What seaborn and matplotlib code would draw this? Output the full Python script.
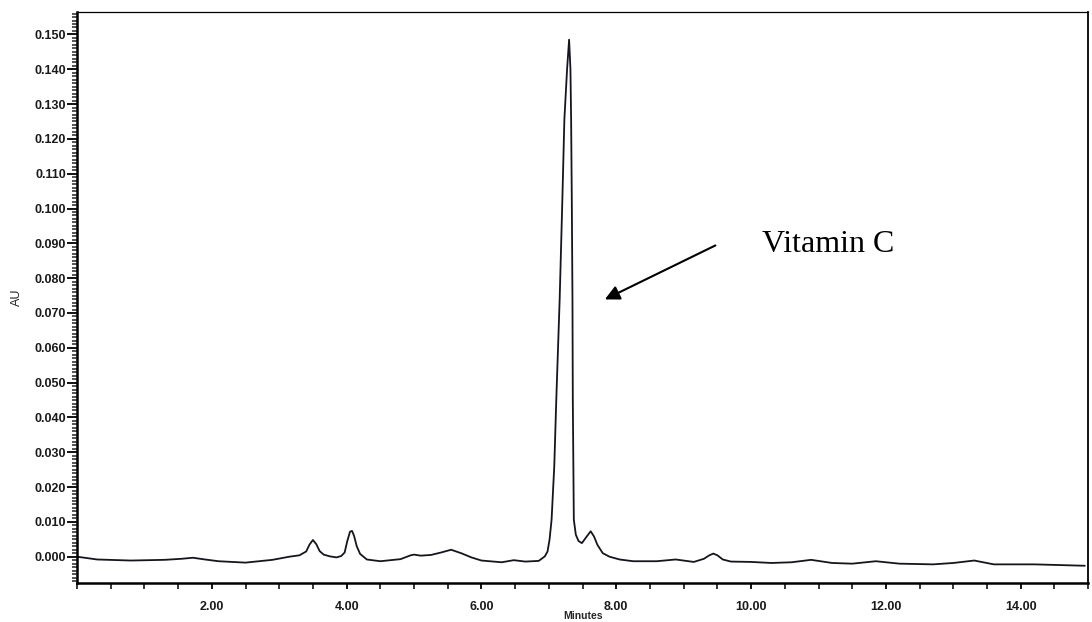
import numpy as np
import pandas as pd
import matplotlib
matplotlib.use("Agg")
import matplotlib.pyplot as plt
from matplotlib.ticker import MultipleLocator, FormatStrFormatter
import seaborn as sns

# Chromatogram trace (minutes, AU)
time_min = [0.00, 0.30, 0.80, 1.30, 1.55, 1.72, 1.90, 2.10, 2.50, 2.90, 3.15,
            3.30, 3.40, 3.45, 3.50, 3.55, 3.60, 3.66, 3.75, 3.85, 3.92, 3.97,
            4.01, 4.05, 4.08, 4.11, 4.15, 4.20, 4.30, 4.50, 4.80, 4.95, 5.00,
            5.10, 5.25, 5.40, 5.55, 5.70, 5.85, 6.00, 6.30, 6.48, 6.65, 6.85,
            6.94, 6.98, 7.01, 7.04, 7.08, 7.11, 7.16, 7.20, 7.23, 7.27, 7.30,
            7.32, 7.33, 7.34, 7.35, 7.355, 7.37, 7.40, 7.44, 7.49, 7.55, 7.62,
            7.67, 7.72, 7.80, 7.90, 8.05, 8.25, 8.60, 8.88, 9.15, 9.30, 9.38,
            9.44, 9.50, 9.58, 9.70, 10.00, 10.30, 10.60, 10.89, 11.20, 11.50,
            11.85, 12.20, 12.70, 13.00, 13.31, 13.60, 14.20, 14.95]
absorbance_au = [0.0000, -0.0008, -0.0011, -0.0009, -0.0006, -0.0003, -0.0008,
                 -0.0013, -0.0017, -0.0009, 0.0000, 0.0004, 0.0015, 0.0035,
                 0.0048, 0.0036, 0.0016, 0.0006, 0.0001, -0.0002, 0.0002,
                 0.0012, 0.0045, 0.0072, 0.0074, 0.0060, 0.0030, 0.0008,
                 -0.0008, -0.0013, -0.0007, 0.0004, 0.0006, 0.0003, 0.0005,
                 0.0012, 0.0020, 0.0010, -0.0002, -0.0011, -0.0016, -0.0010,
                 -0.0014, -0.0012, 0.0001, 0.0015, 0.0049, 0.0106, 0.0260,
                 0.0451, 0.0739, 0.1026, 0.1256, 0.1400, 0.1485, 0.1400,
                 0.1256, 0.1026, 0.0739, 0.0451, 0.0106, 0.0063, 0.0045,
                 0.0039, 0.0055, 0.0073, 0.0058, 0.0034, 0.0010, 0.0000,
                 -0.0008, -0.0013, -0.0013, -0.0008, -0.0015, -0.0006, 0.0004,
                 0.0009, 0.0004, -0.0008, -0.0014, -0.0015, -0.0018, -0.0016,
                 -0.0009, -0.0018, -0.0020, -0.0013, -0.0020, -0.0022, -0.0018,
                 -0.0011, -0.0022, -0.0022, -0.0026]

y_major = [0.000, 0.010, 0.020, 0.030, 0.040, 0.050, 0.060, 0.070, 0.080,
           0.090, 0.100, 0.110, 0.120, 0.130, 0.140, 0.150]
x_major = [2, 4, 6, 8, 10, 12, 14]

df = pd.DataFrame({"Minutes": time_min, "AU": absorbance_au})

sns.set_style("ticks")
plt.rcParams["font.family"] = ["Liberation Sans", "DejaVu Sans"]

fig = plt.figure(figsize=(10.92, 6.22), dpi=100)
ax = fig.add_axes([0.0705, 0.063, 0.926, 0.918])

sns.lineplot(data=df, x="Minutes", y="AU", ax=ax, color="#151522",
             linewidth=1.3, sort=False)

ax.set_xlim(0, 15)
ax.set_ylim(-0.0075, 0.1565)
ax.set_xticks(x_major)
ax.xaxis.set_minor_locator(MultipleLocator(0.5))
ax.set_yticks(y_major)
ax.yaxis.set_minor_locator(MultipleLocator(0.001))
ax.xaxis.set_major_formatter(FormatStrFormatter("%.2f"))
ax.yaxis.set_major_formatter(FormatStrFormatter("%.3f"))

ax.tick_params(axis="both", which="major", labelsize=9, width=1.3,
               color="black", labelcolor="#1a1a1a")
ax.tick_params(axis="y", which="major", length=7, pad=1)
ax.tick_params(axis="y", which="minor", length=3.5, width=1.1)
ax.tick_params(axis="x", which="major", length=4, pad=9)
ax.tick_params(axis="x", which="minor", length=4, width=1.3)
for lab in ax.get_xticklabels() + ax.get_yticklabels():
    lab.set_fontweight("bold")

for side in ["top", "right", "left", "bottom"]:
    ax.spines[side].set_visible(True)
    ax.spines[side].set_color("black")
ax.spines["left"].set_linewidth(1.8)
ax.spines["bottom"].set_linewidth(1.8)
ax.spines["top"].set_linewidth(0.9)
ax.spines["right"].set_linewidth(1.3)

ax.set_xlabel("Minutes", fontsize=7.5, fontweight="bold", labelpad=-1)
ax.set_ylabel("AU", fontsize=9, labelpad=8)

ax.text(10.16, 0.0874, "Vitamin C", fontsize=23, family="Liberation Serif",
        color="black")
ax.annotate("", xy=(7.83, 0.0739), xytext=(9.47, 0.0894),
            arrowprops=dict(arrowstyle="-|>", color="black", lw=1.5,
                            mutation_scale=22, shrinkA=0, shrinkB=0))

fig.savefig("out.png", dpi=100)
